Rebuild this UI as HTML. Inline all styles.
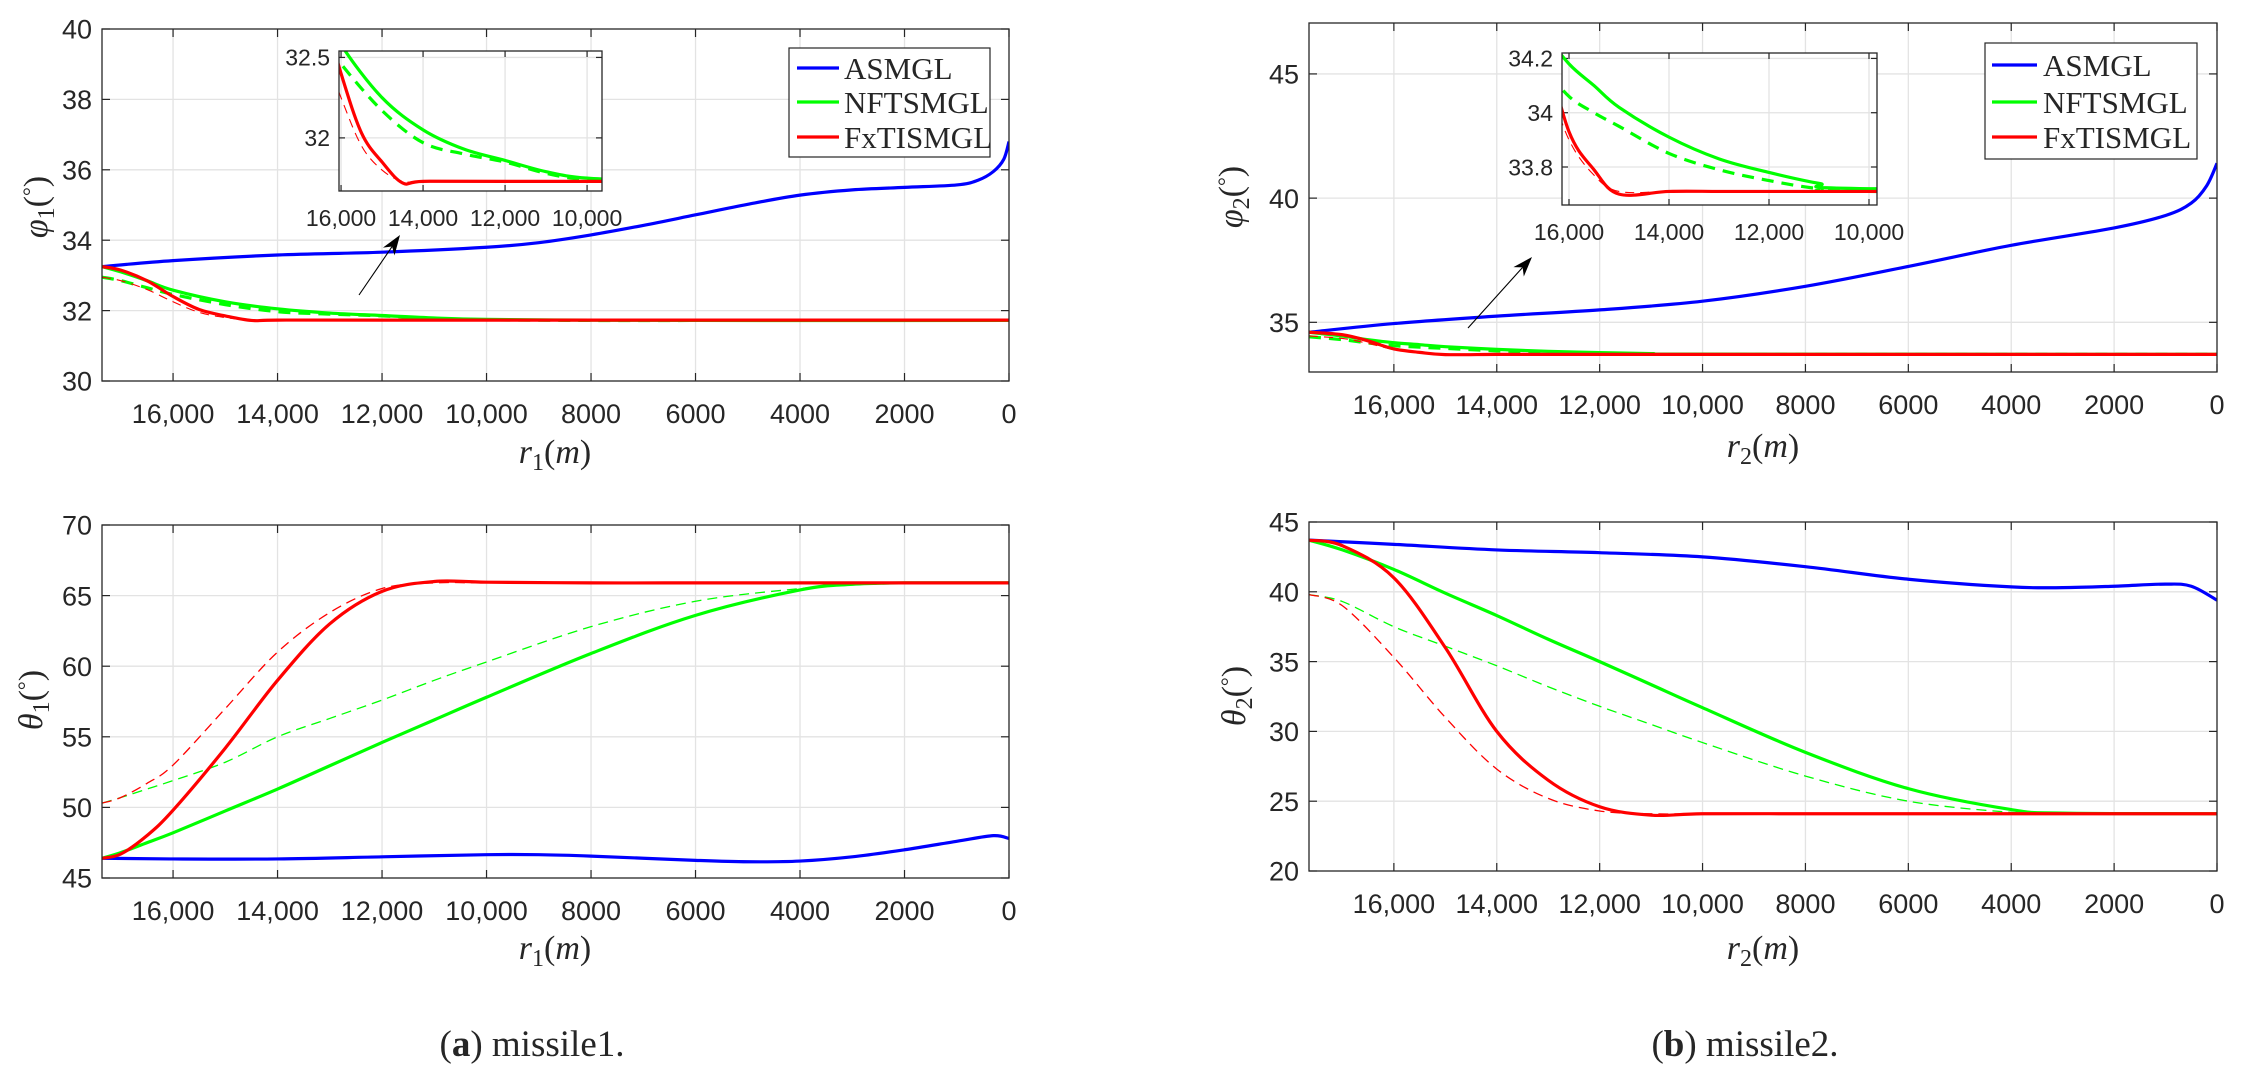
<!DOCTYPE html>
<html><head><meta charset="utf-8"><title>missile charts</title>
<style>
html,body{margin:0;padding:0;background:#fff;}
svg{display:block;}
text{font-family:"Liberation Sans",sans-serif;fill:#262626;}
.serif{font-family:"Liberation Serif",serif;}
</style></head>
<body>
<svg id="fig" width="2242" height="1075" viewBox="0 0 2242 1075" xmlns="http://www.w3.org/2000/svg">
<defs id="defs"></defs>
</svg>
<script>
// ---------- data ----------
const xTicks = [16000,14000,12000,10000,8000,6000,4000,2000,0];
const tickLabels = ["16,000","14,000","12,000","10,000","8000","6000","4000","2000","0"];
const insetXTicks = [16000,14000,12000,10000];
const insetXLabels = ["16,000","14,000","12,000","10,000"];
const legendNames = ["ASMGL","NFTSMGL","FxTISMGL"];

// phi1 (missile1 top)
const phi1_r_blue = [17360,16000,14000,12000,10000,9000,8000,7000,6000,5000,4000,3000,2000,1000,600,300,100,0];
const phi1_blue   = [33.25,33.42,33.58,33.66,33.8,33.93,34.15,34.42,34.72,35.02,35.28,35.43,35.5,35.57,35.7,35.95,36.3,36.8];
const phi1_r_g    = [17360,17000,16500,16000,15000,14000,13000,12000,11000,10000,8000,6000,0];
const phi1_green  = [33.25,33.1,32.85,32.58,32.25,32.05,31.93,31.86,31.79,31.75,31.73,31.72,31.72];
const phi1_greenD = [32.95,32.85,32.65,32.46,32.17,31.97,31.9,31.85,31.78,31.74,31.72,31.72,31.72];
const phi1_r_r    = [17360,17000,16500,16000,15500,15000,14500,14000,12000,0];
const phi1_red    = [33.25,33.15,32.85,32.4,32.03,31.85,31.72,31.73,31.73,31.73];
const phi1_redD   = [32.95,32.85,32.6,32.25,31.95,31.8,31.73,31.73,31.73,31.73];

// theta1 (missile1 bottom)
const th1_r_blue = [17360,16000,14000,12000,10000,9000,8000,6000,5000,4000,3000,2000,1000,300,0];
const th1_blue   = [46.4,46.35,46.35,46.5,46.65,46.65,46.55,46.25,46.15,46.2,46.5,47.0,47.6,48.0,47.8];
const th1_r      = [17360,17000,16500,16000,15000,14000,13000,12000,11000,10000,8000,6000,4000,3000,2000,0];
const th1_red    = [46.4,46.7,48.0,49.8,54.2,59.0,63.0,65.3,66.0,65.95,65.9,65.9,65.9,65.9,65.9,65.9];
const th1_redD   = [50.3,50.7,51.7,53.0,57.0,61.0,63.8,65.5,65.9,65.9,65.9,65.9,65.9,65.9,65.9,65.9];
const th1_green  = [46.4,46.8,47.5,48.2,49.75,51.3,52.95,54.6,56.2,57.8,60.9,63.6,65.4,65.8,65.9,65.9];
const th1_greenD = [50.3,50.7,51.3,51.9,53.2,55.0,56.3,57.6,59.0,60.3,62.8,64.6,65.5,65.75,65.85,65.9];

// phi2 (missile2 top)
const phi2_r_blue = [17650,16000,14000,12000,10000,8000,6000,4000,2000,1000,500,200,0];
const phi2_blue   = [34.6,34.95,35.25,35.5,35.85,36.45,37.25,38.1,38.8,39.3,39.8,40.5,41.4];
const phi2_r      = [17650,17000,16500,16000,15500,15000,14000,13000,12000,11000,10000,0];
const phi2_green  = [34.6,34.45,34.3,34.18,34.1,34.02,33.91,33.83,33.78,33.74,33.72,33.71];
const phi2_greenD = [34.42,34.3,34.17,34.06,34.0,33.95,33.85,33.79,33.75,33.72,33.71,33.71];
const phi2_red    = [34.6,34.5,34.25,33.93,33.79,33.7,33.71,33.71,33.71,33.71,33.71,33.71];
const phi2_redD   = [34.45,34.35,34.15,33.9,33.77,33.71,33.71,33.71,33.71,33.71,33.71,33.71];

// theta2 (missile2 bottom)
const th2_r_blue = [17650,16000,14000,12000,10000,8000,6000,4000,3000,2000,1000,500,0];
const th2_blue   = [43.7,43.4,43.0,42.8,42.5,41.8,40.9,40.35,40.3,40.4,40.55,40.4,39.4];
const th2_r      = [17650,17000,16000,15000,14000,13000,12000,11000,10000,8000,6000,4000,3000,0];
const th2_green  = [43.7,43.0,41.6,39.9,38.3,36.6,35.0,33.35,31.7,28.5,25.9,24.4,24.15,24.1];
const th2_greenD = [39.8,39.3,37.5,36.1,34.7,33.2,31.8,30.5,29.2,26.8,25.0,24.2,24.1,24.1];
const th2_red    = [43.7,43.3,41.0,36.0,30.0,26.5,24.6,24.0,24.1,24.1,24.1,24.1,24.1,24.1];
const th2_redD   = [39.8,39.0,35.3,31.0,27.3,25.2,24.3,24.1,24.1,24.1,24.1,24.1,24.1,24.1];

// ---------- drawing ----------
const NS = "http://www.w3.org/2000/svg";
const svg = document.getElementById('fig');
const defs = document.getElementById('defs');
const BLUE="#0000ff", GREEN="#00ff00", RED="#ff0000";
let clipId = 0;

function mk(tag, attrs, parent){
  const e = document.createElementNS(NS, tag);
  for (const k in attrs) e.setAttribute(k, attrs[k]);
  (parent||svg).appendChild(e);
  return e;
}
function crPath(pts){
  let d = "M"+pts[0][0].toFixed(2)+","+pts[0][1].toFixed(2);
  for (let i=0;i<pts.length-1;i++){
    const p0=pts[Math.max(0,i-1)], p1=pts[i], p2=pts[i+1], p3=pts[Math.min(pts.length-1,i+2)];
    const c1=[p1[0]+(p2[0]-p0[0])/6, p1[1]+(p2[1]-p0[1])/6];
    const c2=[p2[0]-(p3[0]-p1[0])/6, p2[1]-(p3[1]-p1[1])/6];
    d += " C"+c1[0].toFixed(2)+","+c1[1].toFixed(2)+" "+c2[0].toFixed(2)+","+c2[1].toFixed(2)+" "+p2[0].toFixed(2)+","+p2[1].toFixed(2);
  }
  return d;
}

function makeAxes(cfg){
  const ax = {
    sx: v => cfg.L + (v - cfg.x0) / (cfg.x1 - cfg.x0) * (cfg.R - cfg.L),
    sy: v => cfg.B - (v - cfg.y0) / (cfg.y1 - cfg.y0) * (cfg.B - cfg.T),
    cfg: cfg
  };
  const g = mk('g', {});
  
  
  ax.g = g;
  mk('rect', {x:cfg.L, y:cfg.T, width:cfg.R-cfg.L, height:cfg.B-cfg.T, fill:'#fff'}, g);
  const grid = mk('g', {stroke:'#e3e3e3', 'stroke-width':1.3}, g);
  
  
  const tl = cfg.tickLen || 8;
  const ticks = mk('g', {stroke:'#262626', 'stroke-width':1.2}, g);
  cfg.xt.forEach((v,i)=>{
    const x = ax.sx(v);
    if (x > cfg.L+1 && x < cfg.R-1) mk('line',{x1:x,x2:x,y1:cfg.T,y2:cfg.B},grid);
    mk('line',{x1:x,x2:x,y1:cfg.B,y2:cfg.B-tl},ticks);
    mk('line',{x1:x,x2:x,y1:cfg.T,y2:cfg.T+tl},ticks);
    const t = mk('text',{x:x, y:cfg.B+cfg.xlabOff, 'text-anchor':'middle', 'font-size':cfg.fs}, g);
    
    
    t.textContent = cfg.xl[i];
  });
  cfg.yt.forEach((v,i)=>{
    const y = ax.sy(v);
    if (y > cfg.T+1 && y < cfg.B-1) mk('line',{x1:cfg.L,x2:cfg.R,y1:y,y2:y},grid);
    mk('line',{x1:cfg.L,x2:cfg.L+tl,y1:y,y2:y},ticks);
    mk('line',{x1:cfg.R,x2:cfg.R-tl,y1:y,y2:y},ticks);
    const t = mk('text',{x:cfg.L-cfg.ylabOff, y:y+cfg.fs*0.36, 'text-anchor':'end', 'font-size':cfg.fs}, g);
    
    
    t.textContent = cfg.yl[i];
  });
  const id = 'clip'+(clipId++);
  const cp = mk('clipPath',{id:id},defs);
  mk('rect',{x:cfg.L, y:cfg.T, width:cfg.R-cfg.L, height:cfg.B-cfg.T},cp);
  ax.series = mk('g',{'clip-path':'url(#'+id+')'}, g);
  ax.frame = () => {
    const f = mk('rect',{x:cfg.L, y:cfg.T, width:cfg.R-cfg.L, height:cfg.B-cfg.T, fill:'none', stroke:'#262626', 'stroke-width':1.3}, g);
    
    
  };
  return ax;
}
function line(ax, xs, ys, color, w, dash, name){
  const pts = xs.map((x,i)=>[ax.sx(x), ax.sy(ys[i])]);
  const p = mk('path',{d:crPath(pts), fill:'none', stroke:color, 'stroke-width':w, 'stroke-linejoin':'round'}, ax.series);
  if (dash) p.setAttribute('stroke-dasharray', dash);
  
  
}
function legend(x,y,w,h,lx1,lx2,tx,rows){
  const g = mk('g',{});
  
  
  mk('rect',{x:x,y:y,width:w,height:h,fill:'#fff',stroke:'#262626','stroke-width':1.2},g);
  const cols=[BLUE,GREEN,RED];
  legendNames.forEach((n,i)=>{
    const e = mk('g',{},g);
    
    
    mk('line',{x1:lx1,x2:lx2,y1:rows[i],y2:rows[i],stroke:cols[i],'stroke-width':3.2},e);
    const t = mk('text',{x:tx,y:rows[i]+11,'font-size':31,'class':'serif',fill:'#000'},e);
    t.textContent = n;
  });
}
function arrow(x1,y1,x2,y2,name){
  const g = mk('g',{});
  
  
  const a = Math.atan2(y2-y1,x2-x1), L=20, W=7;
  const bx = x2 - L*Math.cos(a), by = y2 - L*Math.sin(a);
  mk('line',{x1:x1,y1:y1,x2:bx+6*Math.cos(a),y2:by+6*Math.sin(a),stroke:'#000','stroke-width':1.1},g);
  const p1=[bx + W*Math.sin(a), by - W*Math.cos(a)], p2=[bx - W*Math.sin(a), by + W*Math.cos(a)];
  const m=[bx+6*Math.cos(a), by+6*Math.sin(a)];
  mk('path',{d:`M${x2},${y2} L${p1[0]},${p1[1]} L${m[0]},${m[1]} L${p2[0]},${p2[1]} Z`,fill:'#000'},g);
}
function xTitle(cx, cy, sub, name){
  const t = mk('text',{x:cx, y:cy+10, 'text-anchor':'middle', 'font-size':34, 'class':'serif'});
  
  
  t.innerHTML = '<tspan font-style="italic">r</tspan><tspan font-size="24" dy="7">'+sub+'</tspan><tspan dy="-7">(</tspan><tspan font-style="italic">m</tspan><tspan>)</tspan>';
}
function yTitle(cx, cy, sym, sub, name){
  const t = mk('text',{x:0, y:0, 'text-anchor':'middle', 'font-size':34, 'class':'serif', transform:`translate(${cx+10},${cy}) rotate(-90)`});
  
  
  t.innerHTML = '<tspan font-style="italic">'+sym+'</tspan><tspan font-size="24" dy="7">'+sub+'</tspan><tspan dy="-7">(</tspan><tspan font-size="22" dy="-9">°</tspan><tspan dy="9">)</tspan>';
}

function drawPhi(ax, rb, b, r, g, gd, rr, red, redD){
  line(ax, rb, b, BLUE, 3.2, null, 'asmgl-line');
  line(ax, r, gd, GREEN, 3.2, '12 8', 'nftsmgl-reference-dashed');
  line(ax, rr, redD, RED, 1.1, '9 6', 'fxtismgl-reference-dashed');
  line(ax, r, g, GREEN, 3.2, null, 'nftsmgl-line');
  line(ax, rr, red, RED, 3.2, null, 'fxtismgl-line');
}

const mainX = {xt:xTicks, xl:tickLabels, fs:27, xlabOff:42, ylabOff:10};
const a1 = makeAxes(Object.assign({name:'phi1-axes', L:102,R:1009,T:29,B:381, x0:17360,x1:0, y0:30,y1:40,
  yt:[30,32,34,36,38,40], yl:["30","32","34","36","38","40"]}, mainX));
drawPhi(a1, phi1_r_blue, phi1_blue, phi1_r_g, phi1_green, phi1_greenD, phi1_r_r, phi1_red, phi1_redD);
a1.frame();

const a2 = makeAxes(Object.assign({name:'theta1-axes', L:102,R:1009,T:525,B:878, x0:17360,x1:0, y0:45,y1:70,
  yt:[45,50,55,60,65,70], yl:["45","50","55","60","65","70"]}, mainX));
line(a2, th1_r, th1_greenD, GREEN, 1.3, '10 6', 'nftsmgl-reference-dashed');
line(a2, th1_r, th1_redD, RED, 1.3, '10 6', 'fxtismgl-reference-dashed');
line(a2, th1_r_blue, th1_blue, BLUE, 3.2, null, 'asmgl-line');
line(a2, th1_r, th1_green, GREEN, 3.2, null, 'nftsmgl-line');
line(a2, th1_r, th1_red, RED, 3.2, null, 'fxtismgl-line');
a2.frame();

const a3 = makeAxes(Object.assign({name:'phi2-axes', L:1309,R:2217,T:23,B:372, x0:17650,x1:0, y0:33.0,y1:47.05,
  yt:[35,40,45], yl:["35","40","45"]}, mainX));
drawPhi(a3, phi2_r_blue, phi2_blue, phi2_r, phi2_green, phi2_greenD, phi2_r, phi2_red, phi2_redD);
a3.frame();

const a4 = makeAxes(Object.assign({name:'theta2-axes', L:1309,R:2217,T:522,B:871, x0:17650,x1:0, y0:20,y1:45,
  yt:[20,25,30,35,40,45], yl:["20","25","30","35","40","45"]}, mainX));
line(a4, th2_r, th2_greenD, GREEN, 1.3, '10 6', 'nftsmgl-reference-dashed');
line(a4, th2_r, th2_redD, RED, 1.3, '10 6', 'fxtismgl-reference-dashed');
line(a4, th2_r_blue, th2_blue, BLUE, 3.2, null, 'asmgl-line');
line(a4, th2_r, th2_green, GREEN, 3.2, null, 'nftsmgl-line');
line(a4, th2_r, th2_red, RED, 3.2, null, 'fxtismgl-line');
a4.frame();

const insetX = {xt:insetXTicks, xl:insetXLabels, fs:23, xlabOff:35, ylabOff:9, tickLen:6};
const i1 = makeAxes(Object.assign({name:'phi1-inset-axes', L:339,R:602,T:51,B:191, x0:16050,x1:9636, y0:31.67,y1:32.54,
  yt:[32,32.5], yl:["32","32.5"]}, insetX));
drawPhi(i1, phi1_r_blue, phi1_blue, phi1_r_g, phi1_green, phi1_greenD, phi1_r_r, phi1_red, phi1_redD);
i1.frame();
const i2 = makeAxes(Object.assign({name:'phi2-inset-axes', L:1562,R:1877,T:53,B:205, x0:16140,x1:9840, y0:33.66,y1:34.22,
  yt:[33.8,34,34.2], yl:["33.8","34","34.2"]}, insetX));
drawPhi(i2, phi2_r_blue, phi2_blue, phi2_r, phi2_green, phi2_greenD, phi2_r, phi2_red, phi2_redD);
i2.frame();

arrow(359,295,400,235,'zoom-arrow-left');
arrow(1468,328,1532,257,'zoom-arrow-right');

legend(789,48,201,109,797,839,844,[68,102,137]);
legend(1985,43,212,116,1992,2037,2043,[65,102,137]);

xTitle(555,453,'1','x-axis-title-r1');
xTitle(555,949,'1','x-axis-title-r1-bottom');
xTitle(1763,447,'2','x-axis-title-r2');
xTitle(1763,949,'2','x-axis-title-r2-bottom');
yTitle(37,207,'φ','1','y-axis-title-phi1');
yTitle(32,700,'θ','1','y-axis-title-theta1');
yTitle(1232,197,'φ','2','y-axis-title-phi2');
yTitle(1235,696,'θ','2','y-axis-title-theta2');

function caption(cx, letter, txt, name){
  const t = mk('text',{x:cx, y:1056, 'text-anchor':'middle', 'font-size':37, 'class':'serif', fill:'#000'});
  
  
  t.innerHTML = '(<tspan font-weight="bold">'+letter+'</tspan>) '+txt;
}
caption(532,'a','missile1.','caption-a');
caption(1745,'b','missile2.','caption-b');
</script>
</body></html>
